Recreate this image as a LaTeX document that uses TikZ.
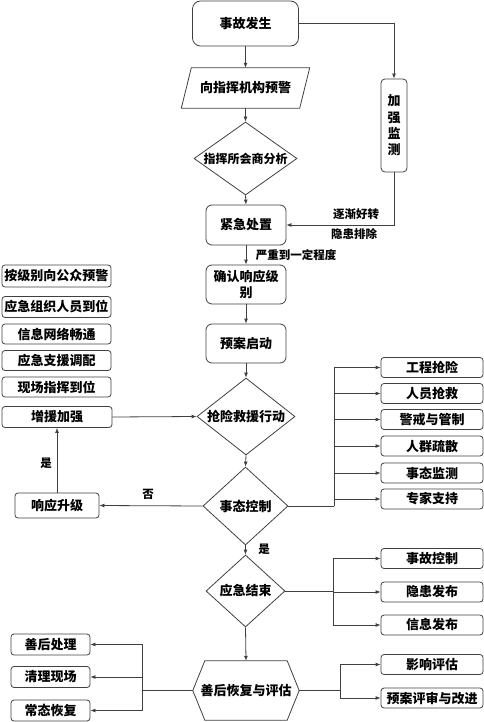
\documentclass[tikz,border=0pt]{standalone}
\usepackage{fontspec}
\setmainfont{Noto Sans CJK SC}
\usetikzlibrary{shapes.geometric,arrows.meta}
\definecolor{ln}{HTML}{404040}
\begin{document}
\begin{tikzpicture}[x=1pt,y=-1pt,
  every node/.style={font=\bfseries\fontsize{13}{15}\selectfont, text=black},
  lbl/.style={font=\bfseries\fontsize{11.5}{13}\selectfont},
  bigbox/.style={draw=ln, line width=0.8pt, rounded corners=6pt, inner sep=0pt, align=center, minimum width=80pt, minimum height=39pt},
  smallbox/.style={draw=ln, line width=0.8pt, rounded corners=3pt, inner sep=0pt, minimum height=20pt},
  rbox/.style={smallbox, minimum width=102pt},
  lbox/.style={smallbox, minimum width=109pt},
  dia/.style={draw=ln, line width=0.8pt, diamond, inner sep=0pt},
  conn/.style={draw=ln, line width=0.8pt},
  arr/.style={conn, -{Latex[length=5pt,width=4pt]}},
]
\useasboundingbox (0,0) rectangle (484,722);

% main column
\node[bigbox, rounded corners=8pt, minimum width=106pt, minimum height=45pt] (a) at (245.5,23.5) {事故发生};
\node[inner sep=0pt, minimum width=118pt, minimum height=40pt] (p) at (245.5,88) {向指挥机构预警};
\draw[conn] ([xshift=5pt]p.north west) -- ([xshift=5pt]p.north east) -- ([xshift=-5pt]p.south east) -- ([xshift=-5pt]p.south west) -- cycle;
\node[dia, minimum width=103pt, minimum height=73pt, shape aspect=1.41, font=\bfseries\fontsize{12}{14}\selectfont] (d1) at (245.5,158.5) {指挥所会商分析};
\node[bigbox, minimum height=40pt] (e) at (246,225) {紧急处置};
\node[draw=ln, line width=0.8pt, rounded corners=4pt, inner sep=0pt, minimum width=26pt, minimum height=93pt, align=center, font=\bfseries\fontsize{13}{16.3}\selectfont] (m) at (394,125.5) {加\\强\\监\\测};
\node[bigbox, font=\bfseries\fontsize{13}{16}\selectfont] (c) at (246,284.5) {确认响应级\\别};
\node[bigbox] (y) at (246,343.5) {预案启动};
\node[dia, minimum width=98pt, minimum height=77pt, shape aspect=1.27] (d2) at (246,416.5) {抢险救援行动};
\node[dia, minimum width=85pt, minimum height=78pt, shape aspect=1.09] (d3) at (245.5,506) {事态控制};
\node[dia, minimum width=79pt, minimum height=72pt, shape aspect=1.1] (d4) at (245.5,591) {应急结束};
\node[inner sep=0pt, minimum width=106pt, minimum height=59pt] (h) at (246,690.5) {善后恢复与评估};
\draw[conn] (h.west) -- ([xshift=12pt]h.north west) -- ([xshift=-12pt]h.north east) -- (h.east) -- ([xshift=-12pt]h.south east) -- ([xshift=12pt]h.south west) -- cycle;

% right boxes
\node[rbox] (r1) at (432,367.5) {工程抢险};
\node[rbox] (r2) at (432,393.5) {人员抢救};
\node[rbox] (r3) at (432,419.5) {警戒与管制};
\node[rbox] (r4) at (432,446) {人群疏散};
\node[rbox] (r5) at (432,473) {事态监测};
\node[rbox] (r6) at (432,499) {专家支持};
\node[rbox] (s1) at (432,558.5) {事故控制};
\node[rbox] (s2) at (432,592) {隐患发布};
\node[rbox] (s3) at (432,625) {信息发布};
\node[rbox] (t1) at (432,664.5) {影响评估};
\node[rbox] (t2) at (432,698) {预案评审与改进};

% left boxes
\node[lbox, minimum height=22pt] (q1) at (56.5,276) {按级别向公众预警};
\node[lbox, minimum height=21pt] (q2) at (56.5,307) {应急组织人员到位};
\node[lbox] (q3) at (56.5,334) {信息网络畅通};
\node[lbox] (q4) at (56.5,360.5) {应急支援调配};
\node[lbox] (q5) at (56.5,387) {现场指挥到位};
\node[lbox, minimum width=110pt, minimum height=21pt] (z) at (57,417) {增援加强};
\node[smallbox, minimum width=84pt, minimum height=25pt] (u) at (57,505.5) {响应升级};
\node[smallbox, minimum width=79pt, minimum height=21pt] (l1) at (50.5,644.5) {善后处理};
\node[smallbox, minimum width=79pt, minimum height=21pt] (l2) at (50.5,677) {清理现场};
\node[smallbox, minimum width=79pt, minimum height=21pt] (l3) at (50.5,710.5) {常态恢复};

% labels
\node[lbl] (la1) at (356,214) {逐渐好转};
\node[lbl] (la2) at (354,234) {隐患排除};
\node[lbl] (la3) at (296,255) {严重到一定程度};
\node[lbl] (la4) at (148,494) {否};
\node[lbl] (la5) at (46,463) {是};
\node[lbl] (la6) at (264,549) {是};

% bus coordinates
\coordinate (b1) at (334,506);
\coordinate (b2) at (333,591);
\coordinate (b3) at (142,690.5);
\coordinate (b4) at (340,690.5);

% connectors
\draw[arr] (a.south) -- (p.north);
\draw[arr] (p.south) -- (d1.north);
\draw[arr] (d1.south) -- (e.north);
\draw[arr] (a.east) -| (m.north);
\draw[arr] (m.south) |- (e.east);
\draw[arr] (e.south) -- (c.north);
\draw[arr] (c.south) -- (y.north);
\draw[arr] (y.south) -- (d2.north);
\draw[arr] (d2.south) -- (d3.north);
\draw[conn] (d3.east) -- (b1);
\foreach \n in {r1,r2,r3,r4,r5,r6} \draw[arr] (b1) |- (\n.west);
\draw[arr] (d3.west) -- (u.east);
\draw[arr] (u.north) -- (z.south);
\draw[arr] (z.east) -- (d2.west);
\draw[arr] (d3.south) -- (d4.north);
\draw[conn] (d4.east) -- (b2);
\foreach \n in {s1,s2,s3} \draw[arr] (b2) |- (\n.west);
\draw[arr] (d4.south) -- (h.north);
\draw[conn] (h.west) -- (b3);
\foreach \n in {l1,l2,l3} \draw[arr] (b3) |- (\n.east);
\draw[conn] (h.east) -- (b4);
\foreach \n in {t1,t2} \draw[arr] (b4) |- (\n.west);
\end{tikzpicture}
\end{document}
